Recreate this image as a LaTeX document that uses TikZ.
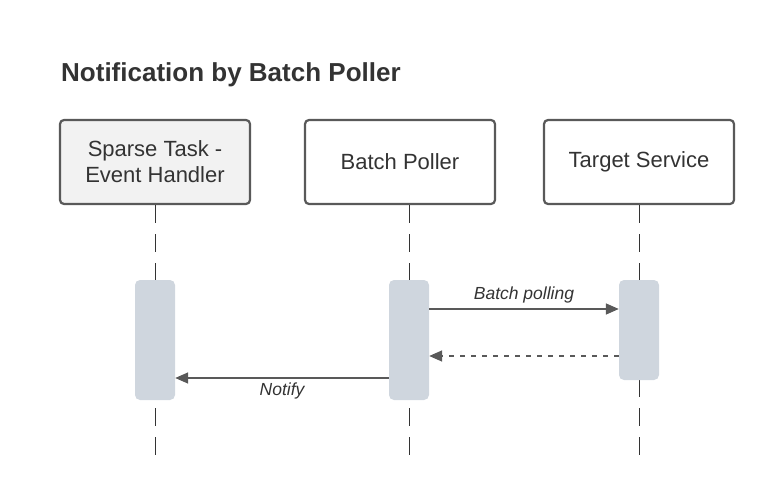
\documentclass[tikz,border=0pt]{standalone}
\usepackage{fontspec}
\setmainfont{Liberation Sans}
\usetikzlibrary{positioning, arrows.meta}

\definecolor{lineGray}{HTML}{595959}
\definecolor{boxFill}{HTML}{F2F2F2}
\definecolor{barFill}{HTML}{CFD6DE}
\definecolor{txtDark}{HTML}{333333}

\tikzset{
	actor/.style={draw=lineGray, line width=2.2pt, rounded corners=4pt, fill=white,
		minimum width=190pt, minimum height=84pt, align=center, font=\fontsize{22}{26}\selectfont, text=txtDark},
	bar/.style={fill=barFill, draw=none, rounded corners=5pt, minimum width=40pt},
	lifeline/.style={draw=txtDark, line width=1pt, dash pattern=on 18pt off 11pt},
	msg/.style={draw=lineGray, line width=1.6pt, -{Triangle[length=13pt, width=11pt]}},
	reply/.style={msg, dash pattern=on 5pt off 6pt},
	msglabel/.style={font=\itshape\fontsize{17.5}{21}\selectfont, text=txtDark}
}

\begin{document}
\begin{tikzpicture}[x=1pt, y=-1pt]
			\useasboundingbox (0,0) rectangle (774,500);
			% title
			\node[anchor=base west, inner sep=0pt, font=\bfseries\fontsize{26}{31}\selectfont, text=txtDark] (title) at (61,82) {Notification by Batch Poller};
			% actors
			\node[actor, fill=boxFill] (handler) at (155,162) {Sparse Task -\\Event Handler};
			\node[actor] (poller) at (400,162) {Batch Poller};
			\node[actor] (target) at (639,162) {Target Service};
			% lifeline ends
			\coordinate (handlerEnd) at (155,462);
			\coordinate (pollerEnd) at (409,462);
			\coordinate (targetEnd) at (639,462);
			\draw[lifeline] (handler.south) -- (handlerEnd);
			\draw[lifeline] (poller.south -| pollerEnd) -- (pollerEnd);
			\draw[lifeline] (target.south) -- (targetEnd);
			% activations
			\node[bar, minimum height=120pt] (handlerBar) at (155,340) {};
			\node[bar, minimum height=120pt] (pollerBar) at (409,340) {};
			\node[bar, minimum height=100pt] (targetBar) at (639,330) {};
			% messages
			\draw[msg] (pollerBar.east |- 0,309) -- node[msglabel, above=2pt] (pollLabel) {Batch polling} (targetBar.west |- 0,309);
			\draw[reply] (targetBar.west |- 0,356) -- (pollerBar.east |- 0,356);
			\draw[msg] (pollerBar.west |- 0,378) -- node[msglabel, below=1pt] (notifyLabel) {Notify} (handlerBar.east |- 0,378);
\end{tikzpicture}
\end{document}
